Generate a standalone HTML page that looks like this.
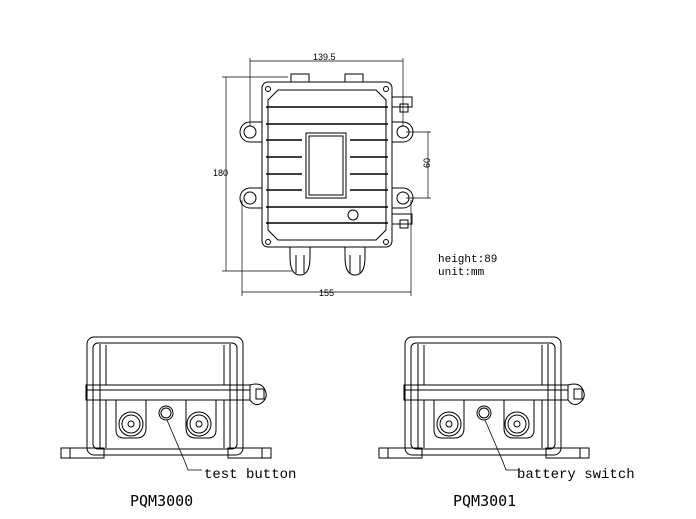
<!DOCTYPE html>
<html><head><style>html,body{margin:0;padding:0;background:#fff}svg{display:block}</style></head><body>
<svg width="696" height="519" viewBox="0 0 696 519" xmlns="http://www.w3.org/2000/svg" font-family="Liberation Mono, monospace">
<g fill="none" stroke="#000" stroke-width="1">
<!-- top view -->
<rect x="262" y="82" width="130" height="165" rx="6"/>
<path d="M278 90 L376 90 L386 100 L386 230 L376 240 L278 240 L268 230 L268 100 Z"/>
<path d="M291 82 v-8 h18 v8 M345 82 v-8 h18 v8"/>
<g stroke-width="1.5">
<line x1="266" y1="107" x2="388" y2="107"/><line x1="266" y1="124" x2="388" y2="124"/>
<line x1="266" y1="207" x2="388" y2="207"/><line x1="266" y1="223" x2="388" y2="223"/>
<line x1="266" y1="140" x2="302" y2="140"/><line x1="350" y1="140" x2="388" y2="140"/>
<line x1="266" y1="157" x2="302" y2="157"/><line x1="350" y1="157" x2="388" y2="157"/>
<line x1="266" y1="174" x2="302" y2="174"/><line x1="350" y1="174" x2="388" y2="174"/>
<line x1="266" y1="190" x2="302" y2="190"/><line x1="350" y1="190" x2="388" y2="190"/>
</g>
<rect x="306" y="133" width="40" height="65" fill="#fff"/><rect x="309" y="136" width="34" height="59"/>
<circle cx="353" cy="215" r="5"/>
<circle cx="268" cy="89" r="2.5"/><circle cx="386" cy="89" r="2.5"/><circle cx="268" cy="242" r="2.5"/><circle cx="386" cy="242" r="2.5"/>
<path d="M262 122 h-12 a10 10 0 0 0 0 20 h12"/><circle cx="250" cy="132" r="6"/>
<path d="M262 188 h-12 a10 10 0 0 0 0 20 h12"/><circle cx="250" cy="198" r="6"/>
<path d="M392 122 h11 a10 10 0 0 1 0 20 h-11"/><circle cx="403" cy="132" r="6"/>
<path d="M392 188 h11 a10 10 0 0 1 0 20 h-11"/><circle cx="403" cy="198" r="6"/>
<rect x="392" y="97" width="20" height="10"/><rect x="400" y="104" width="8" height="8"/>
<rect x="392" y="214" width="20" height="10"/><rect x="400" y="220" width="8" height="8"/>
<path d="M290 247 v10 q0 18 10 18 q10 0 10 -18 v-10 M296 255 v18 M304 255 v18"/>
<path d="M345 247 v10 q0 18 10 18 q10 0 10 -18 v-10 M350 255 v18 M360 255 v18"/>
<!-- dims -->
<g stroke-width="0.7">
<line x1="250" y1="61" x2="403" y2="61"/><line x1="250" y1="58" x2="250" y2="126"/><line x1="403" y1="58" x2="403" y2="126"/>
<line x1="226" y1="77" x2="226" y2="271"/><line x1="222" y1="77" x2="288" y2="77"/><line x1="222" y1="271" x2="292" y2="271"/>
<line x1="242" y1="292" x2="411" y2="292"/><line x1="242" y1="200" x2="242" y2="296"/><line x1="411" y1="200" x2="411" y2="296"/>
<line x1="428" y1="132" x2="428" y2="198"/><line x1="406" y1="132" x2="431" y2="132"/><line x1="406" y1="198" x2="431" y2="198"/>
</g>
</g>
<g font-size="9" font-family="Liberation Sans, sans-serif" fill="#000">
<text x="313" y="60">139.5</text><text x="213" y="176">180</text><text x="319" y="296">155</text>
<text x="426" y="172" transform="rotate(-90 426 168)">60</text>
</g>
<text x="438" y="262" font-size="11" font-family="Liberation Mono, monospace">height:89</text>
<text x="438" y="275" font-size="11" font-family="Liberation Mono, monospace">unit:mm</text>

<g id="side" fill="none" stroke="#000" stroke-width="1">
<rect x="87" y="337" width="156" height="118" rx="7"/>
<rect x="93" y="343" width="144" height="106" rx="5"/>
<line x1="100" y1="344" x2="100" y2="448"/><line x1="230" y1="344" x2="230" y2="448"/>
<line x1="106" y1="345" x2="106" y2="385"/><line x1="224" y1="345" x2="224" y2="385"/>
<line x1="106" y1="400" x2="106" y2="448"/><line x1="224" y1="400" x2="224" y2="448"/>
<rect x="86" y="385" width="164" height="15"/>
<line x1="86" y1="390" x2="250" y2="390"/>
<path d="M250 385 q10 -3 14 3 q6 10 -4 16 q-6 2 -10 -4"/>
<rect x="256" y="389" width="8" height="10"/>
<path d="M116 400 v30 q0 8 8 8 h12 q10 0 10 -10 v-28 h40 v28 q0 10 10 10 h12 q8 0 8 -8 v-30"/>
<circle cx="131" cy="424" r="12"/><circle cx="131" cy="424" r="9"/><circle cx="131" cy="424" r="3"/>
<circle cx="199" cy="424" r="12"/><circle cx="199" cy="424" r="9"/><circle cx="199" cy="424" r="3"/>
<circle cx="166" cy="413" r="7"/><circle cx="166" cy="413" r="5"/>
<rect x="61" y="448" width="43" height="10"/><line x1="70" y1="448" x2="70" y2="458"/>
<rect x="228" y="448" width="43" height="10"/><line x1="262" y1="448" x2="262" y2="458"/>
<path d="M167 420 L185 462 L188 470 h14" stroke-width="0.8"/>
</g>
<use href="#side" transform="translate(318,0)"/>
<g font-size="14" fill="#000" font-family="Liberation Mono, monospace">
<text x="204" y="478">test button</text>
<text x="517" y="478">battery switch</text>
</g>
<g font-size="15" font-family="DejaVu Sans Mono, monospace" fill="#000">
<text x="130" y="506">PQM3000</text>
<text x="453" y="506">PQM3001</text>
</g>
</svg>
</body></html>
